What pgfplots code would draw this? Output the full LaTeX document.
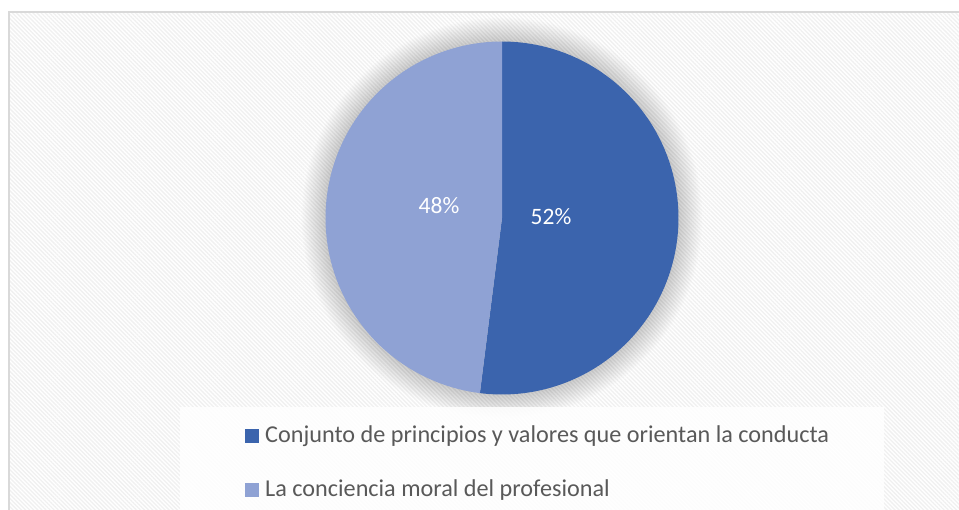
\documentclass[border=0pt]{standalone}
\usepackage{pgfplots}
\pgfplotsset{compat=1.18}
\usepackage{fontspec}
\setmainfont{Carlito}
\usetikzlibrary{patterns.meta}
\definecolor{cA}{HTML}{3B64AD}
\definecolor{cB}{HTML}{8FA2D4}
\definecolor{txt}{HTML}{595959}
\definecolor{brd}{HTML}{D9D9D9}
\pgfmathsetmacro\aS{90-52*3.6}
\begin{document}
\begin{tikzpicture}
\useasboundingbox (0,0) rectangle (959pt,509pt);
\clip (0,0) rectangle (959pt,509pt);
\begin{axis}[
  at={(0,0)}, anchor=south west,
  scale only axis, width=959pt, height=509pt,
  xmin=0, xmax=959, ymin=0, ymax=509,
  hide axis, clip=false,
]
% chart area background
\fill[white] (axis cs:9,-20) rectangle (axis cs:990,497);
\fill[pattern={Lines[angle=-45,distance=2.9pt,line width=1.3pt]}, pattern color=black!6]
  (axis cs:9,-20) rectangle (axis cs:990,497);
\draw[brd, line width=2pt] (axis cs:9,-20) -- (axis cs:9,497) -- (axis cs:990,497);
% shadow
\pgfplotsinvokeforeach{1,...,24}{
  \fill[black, opacity=0.009] (axis cs:502,291) circle[radius={176.5+#1}];
}
% pie slices
\addplot[fill=cA, draw=none, domain=90:\aS, samples=120, variable=\t]
  ({502+176.5*cos(\t)},{291+176.5*sin(\t)}) -- (axis cs:502,291) -- cycle;
\addplot[fill=cB, draw=none, domain=\aS:-270, samples=120, variable=\t]
  ({502+176.5*cos(\t)},{291+176.5*sin(\t)}) -- (axis cs:502,291) -- cycle;
\node[white, font=\fontsize{23.5}{26}\selectfont] at (axis cs:439,303) {48\%};
\node[white, font=\fontsize{23.5}{26}\selectfont] at (axis cs:551,292) {52\%};
% legend
\fill[white, opacity=0.85] (axis cs:180,102) rectangle (axis cs:884,-20);
\fill[cA] (axis cs:245,66) rectangle (axis cs:259,80);
\fill[cB] (axis cs:245,12) rectangle (axis cs:259,26);
\node[anchor=west, txt, inner sep=0pt, font=\fontsize{24.2}{26}\selectfont] at (axis cs:265,73) {Conjunto de principios y valores que orientan la conducta};
\node[anchor=west, txt, inner sep=0pt, font=\fontsize{24.2}{26}\selectfont] at (axis cs:265,19) {La conciencia moral del profesional};
\end{axis}
\end{tikzpicture}
\end{document}
